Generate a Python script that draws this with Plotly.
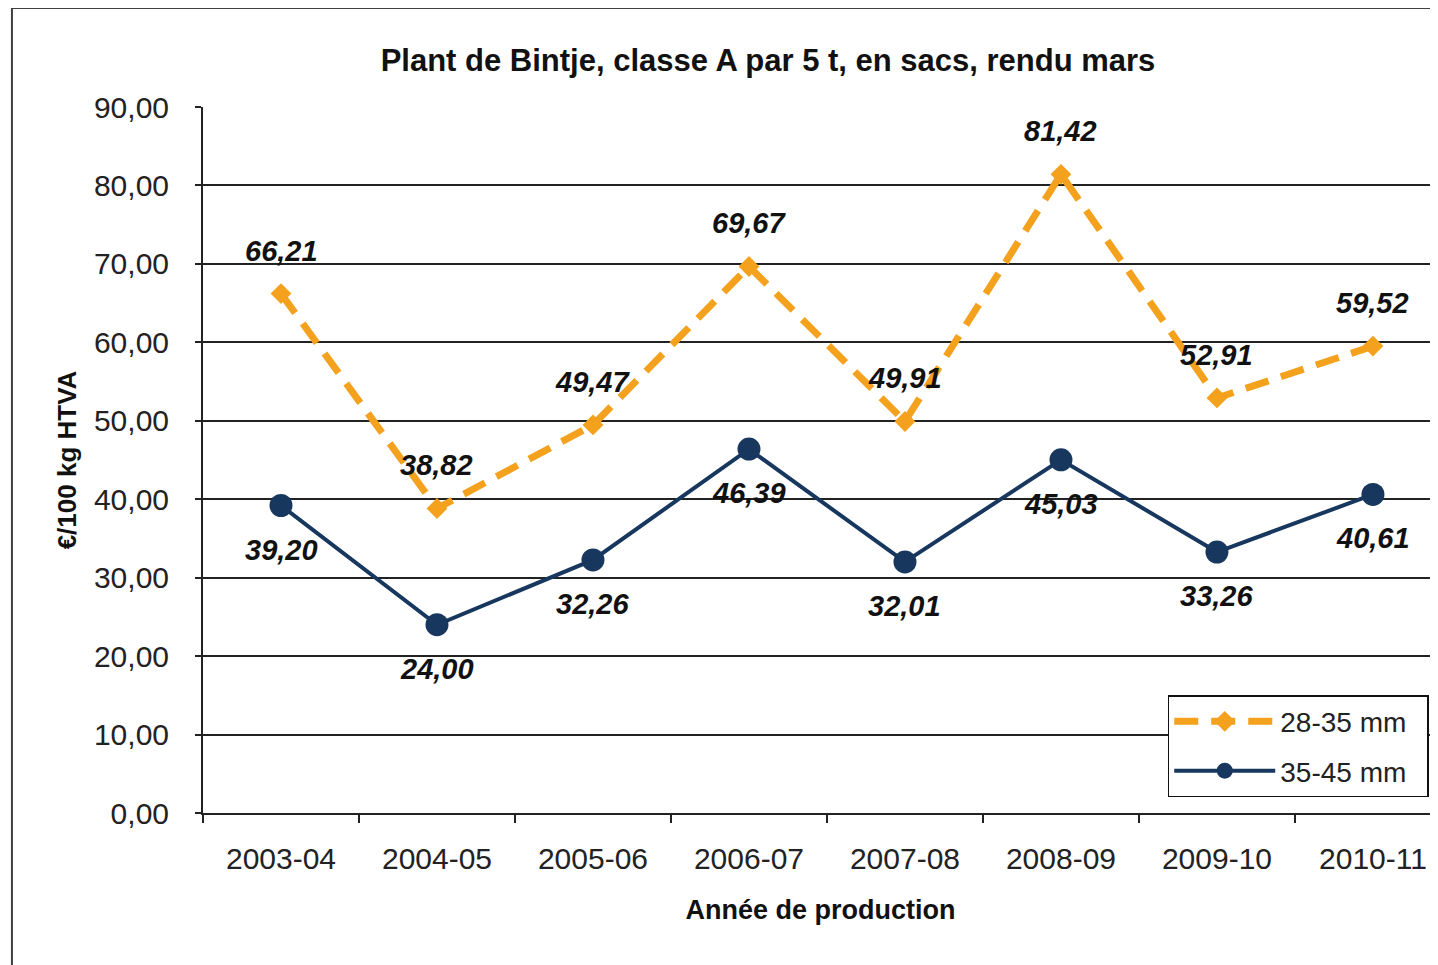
import plotly.graph_objects as go

# data
annees = ["2003-04", "2004-05", "2005-06", "2006-07", "2007-08", "2008-09", "2009-10", "2010-11"]
calibre_28_35 = [66.21, 38.82, 49.47, 69.67, 49.91, 81.42, 52.91, 59.52]
calibre_35_45 = [39.20, 24.00, 32.26, 46.39, 32.01, 45.03, 33.26, 40.61]

ORANGE = "#F4A11E"
NAVY = "#17375E"
FONT = "Liberation Sans, Arial, sans-serif"
PAD = "\u00a0" * 2  # right padding inside the legend box

fig = go.Figure()

fig.add_trace(go.Scatter(
    x=annees, y=calibre_28_35, name="28-35 mm" + PAD, legendgroup="a",
    mode="lines+markers",
    line=dict(color=ORANGE, width=7, dash="24px,13px"),
    marker=dict(symbol="diamond", size=16, color=ORANGE),
))
fig.add_trace(go.Scatter(
    x=annees, y=calibre_35_45, name="35-45 mm" + PAD, legendgroup="b",
    mode="lines+markers",
    line=dict(color=NAVY, width=4),
    marker=dict(symbol="circle", size=23, color=NAVY),
))

# value labels, comma decimals
lab_font = dict(family=FONT, size=29, color="#111", weight="bold", style="italic")
for a, v in zip(annees, calibre_28_35):
    fig.add_annotation(x=a, y=v, text=f"{v:.2f}".replace(".", ","), showarrow=False,
                       yshift=43, font=lab_font)
for a, v in zip(annees, calibre_35_45):
    fig.add_annotation(x=a, y=v, text=f"{v:.2f}".replace(".", ","), showarrow=False,
                       yshift=-44, font=lab_font)

# outer chart border (page body adds an 8px offset)
fig.add_shape(type="rect", xref="paper", yref="paper",
              x0=-0.1547, x1=1.02, y0=-0.25, y1=1.1402,
              line=dict(color="#404040", width=2), layer="below")

fig.update_layout(
    width=1430, height=957,
    margin=dict(l=195, r=0, t=99, b=152),
    paper_bgcolor="white", plot_bgcolor="white",
    separators=", ",
    font=dict(family=FONT, size=30, color="#222"),
    title=dict(text="<b>Plant de Bintje, classe A par 5 t, en sacs, rendu mars</b>",
               x=760 / 1430, xanchor="center", y=1 - 52 / 957, yanchor="middle",
               font=dict(size=31, color="#111")),
    xaxis=dict(
        type="category", range=[-0.5, 7.417],
        tickson="boundaries", ticks="outside", ticklen=8, tickwidth=1.5, tickcolor="#222",
        showline=True, linecolor="#222", linewidth=2, showgrid=False,
        title=dict(text="<b>Année de production</b>", font=dict(size=27, color="#111"), standoff=26),
        tickfont=dict(size=30), ticklabelstandoff=18,
    ),
    yaxis=dict(
        range=[0, 90], dtick=10, tickformat=".2f",
        ticks="outside", ticklen=6, tickwidth=1.5, tickcolor="#222",
        showline=True, linecolor="#222", linewidth=2,
        showgrid=True, gridcolor="#222", gridwidth=1.5,
        zeroline=False,
        title=dict(text="<b>€/100 kg HTVA</b>", font=dict(size=26, color="#111"), standoff=10),
        tickfont=dict(size=30), ticklabelstandoff=20,
    ),
    legend=dict(
        x=0.9925, xanchor="right", y=0.167, yanchor="top",
        bgcolor="white", bordercolor="#111", borderwidth=1.5,
        font=dict(size=28, color="#222"),
        traceorder="grouped", tracegroupgap=10, itemwidth=101,
    ),
)

fig.write_html("out.html")
